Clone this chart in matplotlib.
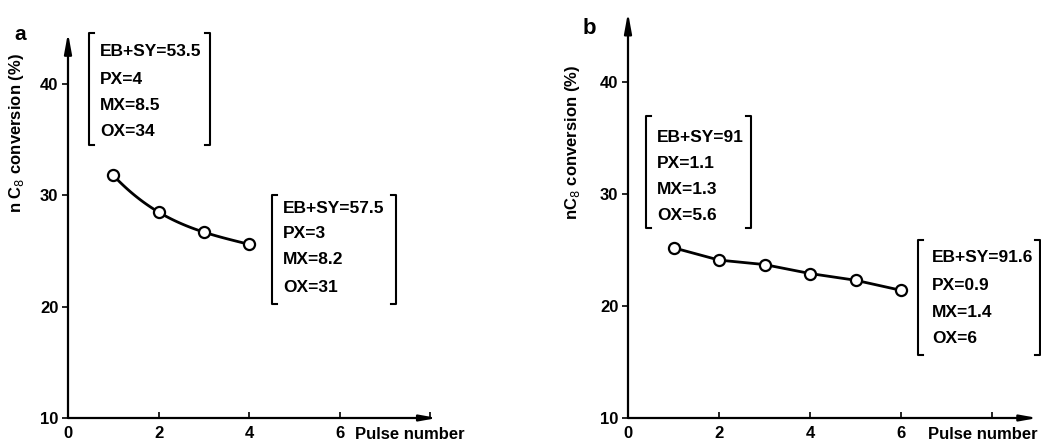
import matplotlib
matplotlib.use("Agg")
import matplotlib.pyplot as plt
import numpy as np

plt.rcParams['font.family'] = ['Liberation Sans', 'DejaVu Sans']

# ---- data ----
pulse_a = [1, 2, 3, 4]
conv_a = [31.8, 28.5, 26.7, 25.6]
pulse_b = [1, 2, 3, 4, 5, 6]
conv_b = [25.2, 24.1, 23.7, 22.9, 22.3, 21.4]
xticks = [0, 2, 4, 6, 8]
xticklabels = ['0', '2', '4', '6', '']
yticks = [10, 20, 30, 40]
yticklabels = ['10', '20', '30', '40']
box_a1 = ['EB+SY=53.5', 'PX=4', 'MX=8.5', 'OX=34']
box_a2 = ['EB+SY=57.5', 'PX=3', 'MX=8.2', 'OX=31']
box_b1 = ['EB+SY=91', 'PX=1.1', 'MX=1.3', 'OX=5.6']
box_b2 = ['EB+SY=91.6', 'PX=0.9', 'MX=1.4', 'OX=6']

W, H = 1041, 444
fig = plt.figure(figsize=(W / 100, H / 100), dpi=100)


def px(x, y):
    return x / W, 1 - y / H


def make_axes(left_px, xscale, yscale, xmax, ymax):
    ax = fig.add_axes([left_px / W, 26 / H, xmax * xscale / W, (ymax - 10) * yscale / H])
    ax.set_xlim(0, xmax)
    ax.set_ylim(10, ymax)
    for s in ax.spines.values():
        s.set_visible(False)
    ax.patch.set_alpha(0)
    ax.annotate('', xy=(xmax, 10), xytext=(0, 10), xycoords='data',
                arrowprops=dict(arrowstyle='-|>,head_length=1.0,head_width=0.18',
                                lw=1.6, color='black', shrinkA=0, shrinkB=0),
                annotation_clip=False)
    ax.annotate('', xy=(0, ymax), xytext=(0, 10), xycoords='data',
                arrowprops=dict(arrowstyle='-|>,head_length=1.2,head_width=0.22',
                                lw=1.6, color='black', shrinkA=0, shrinkB=0),
                annotation_clip=False)
    ax.set_xticks(xticks)
    ax.set_xticklabels(xticklabels, fontsize=12, fontweight='bold')
    ax.set_yticks(yticks)
    ax.set_yticklabels(yticklabels, fontsize=12, fontweight='bold')
    ax.tick_params(axis='x', direction='in', length=4, width=1.2, pad=6)
    ax.tick_params(axis='y', direction='out', length=4, width=1.2, pad=3)
    return ax


def bracket(x0, x1, y0, y1, lines, ys, tx):
    kw = dict(color='black', lw=1.5, transform=fig.transFigure)
    s = 5
    for (xa, xb) in [(x0, x0 + s), (x1, x1 - s)]:
        pts = [px(xb, y0), px(xa, y0), px(xa, y1), px(xb, y1)]
        fig.add_artist(plt.Line2D([p[0] for p in pts], [p[1] for p in pts], **kw))
    for t, y in zip(lines, ys):
        fx, fy = px(tx, y)
        fig.text(fx, fy, t, fontsize=12.5, fontweight='bold', va='center', ha='left')


# ---- panel a ----
axa = make_axes(68, 45.3, 11.13, 8.15, 44.6)
coef = np.polyfit(pulse_a, conv_a, 3)
xs = np.linspace(pulse_a[0], pulse_a[-1], 100)
axa.plot(xs, np.polyval(coef, xs), color='black', lw=2)
axa.plot(pulse_a, conv_a, 'o', ms=8, mfc='white', mec='black', mew=1.6)
axa.annotate('Pulse number', xy=(6.33, 10), xytext=(0, -6.5), textcoords='offset points',
             va='top', ha='left', fontsize=12, fontweight='bold', annotation_clip=False)
fig.text(*px(17, 133), 'n C$_8$ conversion (%)', rotation=90, ha='center', va='center',
         fontsize=12, fontweight='bold')
fig.text(*px(20, 35), 'a', ha='center', va='center', fontsize=15, fontweight='bold')
bracket(89, 210, 33, 145, box_a1, [52, 79, 105, 131], 100)
bracket(272, 396, 195, 304, box_a2, [208, 234, 260, 287], 283)

# ---- panel b ----
axb = make_axes(628, 45.5, 11.2, 9.0, 46.2)
axb.plot(pulse_b, conv_b, '-', color='black', lw=2)
axb.plot(pulse_b, conv_b, 'o', ms=8, mfc='white', mec='black', mew=1.6)
axb.annotate('Pulse number', xy=(6.6, 10), xytext=(0, -6.5), textcoords='offset points',
             va='top', ha='left', fontsize=12, fontweight='bold', annotation_clip=False)
fig.text(*px(573, 142), 'nC$_8$ conversion (%)', rotation=90, ha='center', va='center',
         fontsize=12, fontweight='bold')
fig.text(*px(589, 29), 'b', ha='center', va='center', fontsize=16, fontweight='bold')
bracket(646, 751, 116, 228, box_b1, [137, 163, 189, 215], 657)
bracket(918, 1040, 240, 355, box_b2, [258, 285, 312, 338], 932)

fig.savefig('out.png', dpi=100)
